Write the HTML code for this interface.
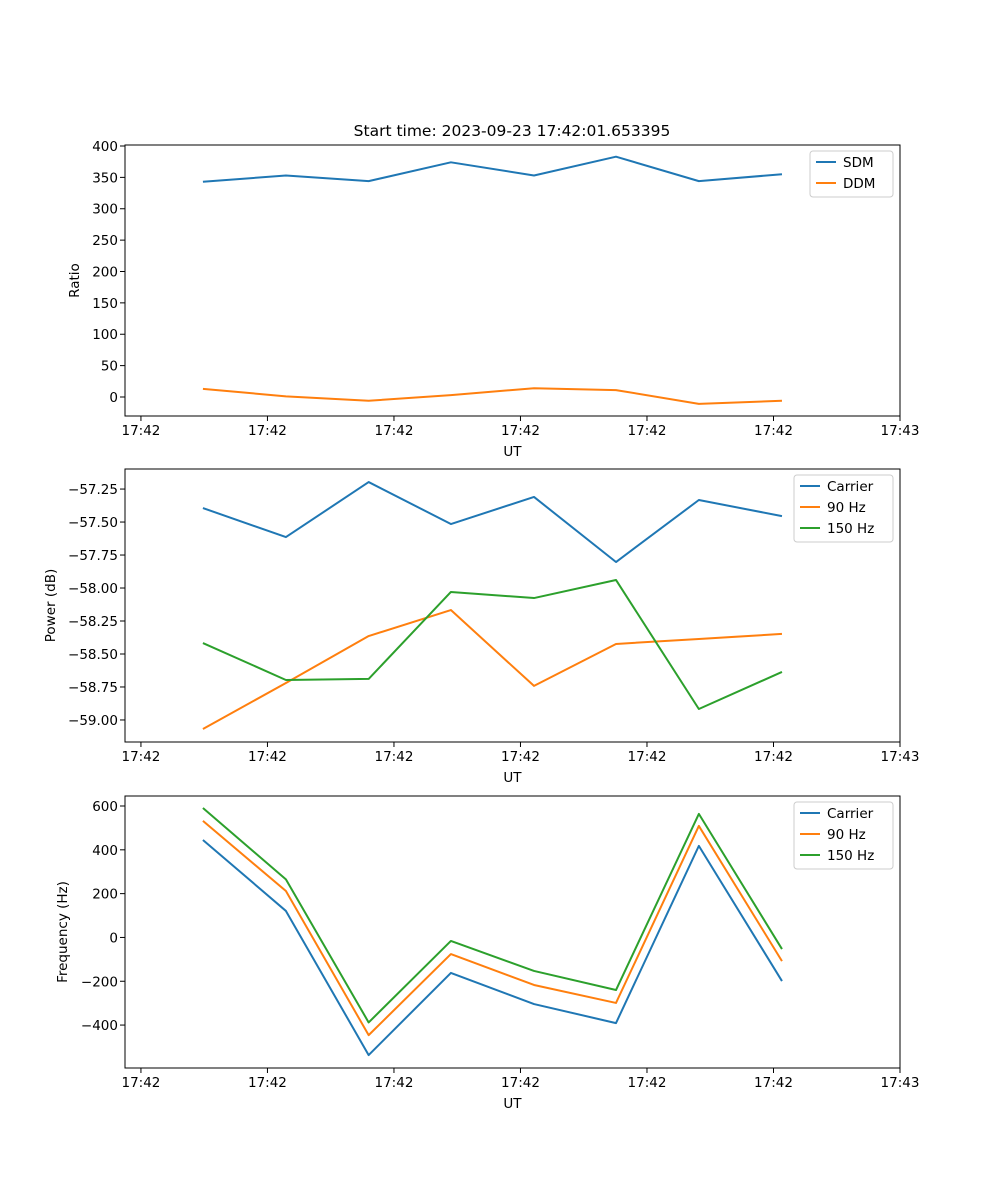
<!DOCTYPE html>
<html><head><meta charset="utf-8"><style>
body{margin:0;background:#fff;}
svg{display:block;font-family:"DejaVu Sans","Liberation Sans",sans-serif;}
</style></head><body>
<svg id="fig" width="1000" height="1200" viewBox="0 0 1000 1200" xmlns="http://www.w3.org/2000/svg">
<rect width="1000" height="1200" fill="#fff"/>
<text x="512" y="136" text-anchor="middle" font-size="15.5">Start time: 2023-09-23 17:42:01.653395</text>
</svg>
<script>
const times = [4.9, 11.46, 18.0, 24.5, 31.07, 37.55, 44.1, 50.67];
const xTicks = [0, 10, 20, 30, 40, 50, 60];
const xTickLabels = ["17:42","17:42","17:42","17:42","17:42","17:42","17:43"];
const sdm = [343, 353, 344, 374, 353, 383, 344, 355];
const ddm = [13, 1, -6, 3, 14, 11, -11, -6];
const powCarrier = [-57.394, -57.614, -57.197, -57.515, -57.31, -57.803, -57.333, -57.455];
const pow90 = [-59.068, -58.72, -58.364, -58.167, -58.742, -58.424, -58.386, -58.348];
const pow150 = [-58.417, -58.697, -58.689, -58.03, -58.076, -57.939, -58.917, -58.636];
const freqCarrier = [445, 121, -537, -162, -304, -391, 418, -199];
const freq90 = [532, 212, -446, -76, -217, -299, 509, -108];
const freq150 = [591, 265, -388, -16, -153, -240, 564, -53];
const ratioTicks = [0, 50, 100, 150, 200, 250, 300, 350, 400];
const powTicks = [-59.0, -58.75, -58.5, -58.25, -58.0, -57.75, -57.5, -57.25];
const freqTicks = [-400, -200, 0, 200, 400, 600];

const NS = "http://www.w3.org/2000/svg";
const svg = document.getElementById('fig');
const C = ['#1f77b4', '#ff7f0e', '#2ca02c'];
function mk(tag, attrs, parent){const e=document.createElementNS(NS,tag);for(const k in attrs)e.setAttribute(k,attrs[k]);(parent||svg).appendChild(e);return e;}
const L = 125, R = 900, xMin = -1.26, xMax = 60;
function xs(v){return L + (v - xMin) / (xMax - xMin) * (R - L);}

function panel(name, top, bottom, yMin, yMax, yTicks, fmt, ylabel, ylabelX, series, legendX, legendW){
  const g = mk('g', {});
  
  
  function ys(v){return bottom - (v - yMin) / (yMax - yMin) * (bottom - top);}
  series.forEach((s, i) => {
    const pts = times.map((t, j) => xs(t).toFixed(2) + ',' + ys(s.vals[j]).toFixed(2)).join(' ');
    const pl = mk('polyline', {points: pts, fill: 'none', stroke: C[i], 'stroke-width': 2, 'stroke-linejoin': 'round'}, g);
    
    
  });
  const frame = mk('rect', {x: L, y: top, width: R - L, height: bottom - top, fill: 'none', stroke: '#000', 'stroke-width': 1}, g);
  
  
  xTicks.forEach((t, i) => {
    const x = xs(t);
    mk('line', {x1: x, x2: x, y1: bottom, y2: bottom + 5, stroke: '#000'}, g);
    const tx = mk('text', {x: x, y: bottom + 19, 'text-anchor': 'middle', 'font-size': 13.5}, g);
    tx.textContent = xTickLabels[i];
    
    
  });
  yTicks.forEach(t => {
    const y = ys(t);
    mk('line', {x1: L - 5, x2: L, y1: y, y2: y, stroke: '#000'}, g);
    const tx = mk('text', {x: L - 7, y: y + 5, 'text-anchor': 'end', 'font-size': 13.5}, g);
    tx.textContent = fmt(t);
    
    
  });
  const xl = mk('text', {x: (L + R) / 2, y: bottom + 40, 'text-anchor': 'middle', 'font-size': 13.5}, g);
  xl.textContent = 'UT';
  
  
  const cy = (top + bottom) / 2;
  const yl = mk('text', {x: ylabelX, y: cy, 'text-anchor': 'middle', 'font-size': 13.5, transform: 'rotate(-90 ' + ylabelX + ' ' + cy + ')'}, g);
  yl.textContent = ylabel;
  
  
  const lg = mk('g', {}, g);
  
  
  const lh = 4 + series.length * 21;
  mk('rect', {x: legendX, y: top + 6, width: legendW, height: lh, rx: 3, fill: '#fff', 'fill-opacity': 0.8, stroke: '#ccc'}, lg);
  series.forEach((s, i) => {
    const y = top + 17 + i * 21;
    mk('line', {x1: legendX + 6, x2: legendX + 26, y1: y, y2: y, stroke: C[i], 'stroke-width': 2}, lg);
    const tx = mk('text', {x: legendX + 33, y: y + 5, 'font-size': 13.5}, lg);
    tx.textContent = s.label;
    
    
  });
}
panel('ratio', 145, 416, -30.3, 401.6, ratioTicks, v => String(v), 'Ratio', 79,
  [{key: 'sdm', label: 'SDM', vals: sdm}, {key: 'ddm', label: 'DDM', vals: ddm}], 810, 83);
panel('power', 469, 742, -59.167, -57.098, powTicks, v => '\u2212' + Math.abs(v).toFixed(2), 'Power (dB)', 55,
  [{key: 'carrier', label: 'Carrier', vals: powCarrier}, {key: '90hz', label: '90 Hz', vals: pow90}, {key: '150hz', label: '150 Hz', vals: pow150}], 794, 99);
panel('frequency', 796, 1068, -596, 645.7, freqTicks, v => v < 0 ? '\u2212' + Math.abs(v) : String(v), 'Frequency (Hz)', 67,
  [{key: 'carrier', label: 'Carrier', vals: freqCarrier}, {key: '90hz', label: '90 Hz', vals: freq90}, {key: '150hz', label: '150 Hz', vals: freq150}], 794, 99);
</script>
</body></html>
